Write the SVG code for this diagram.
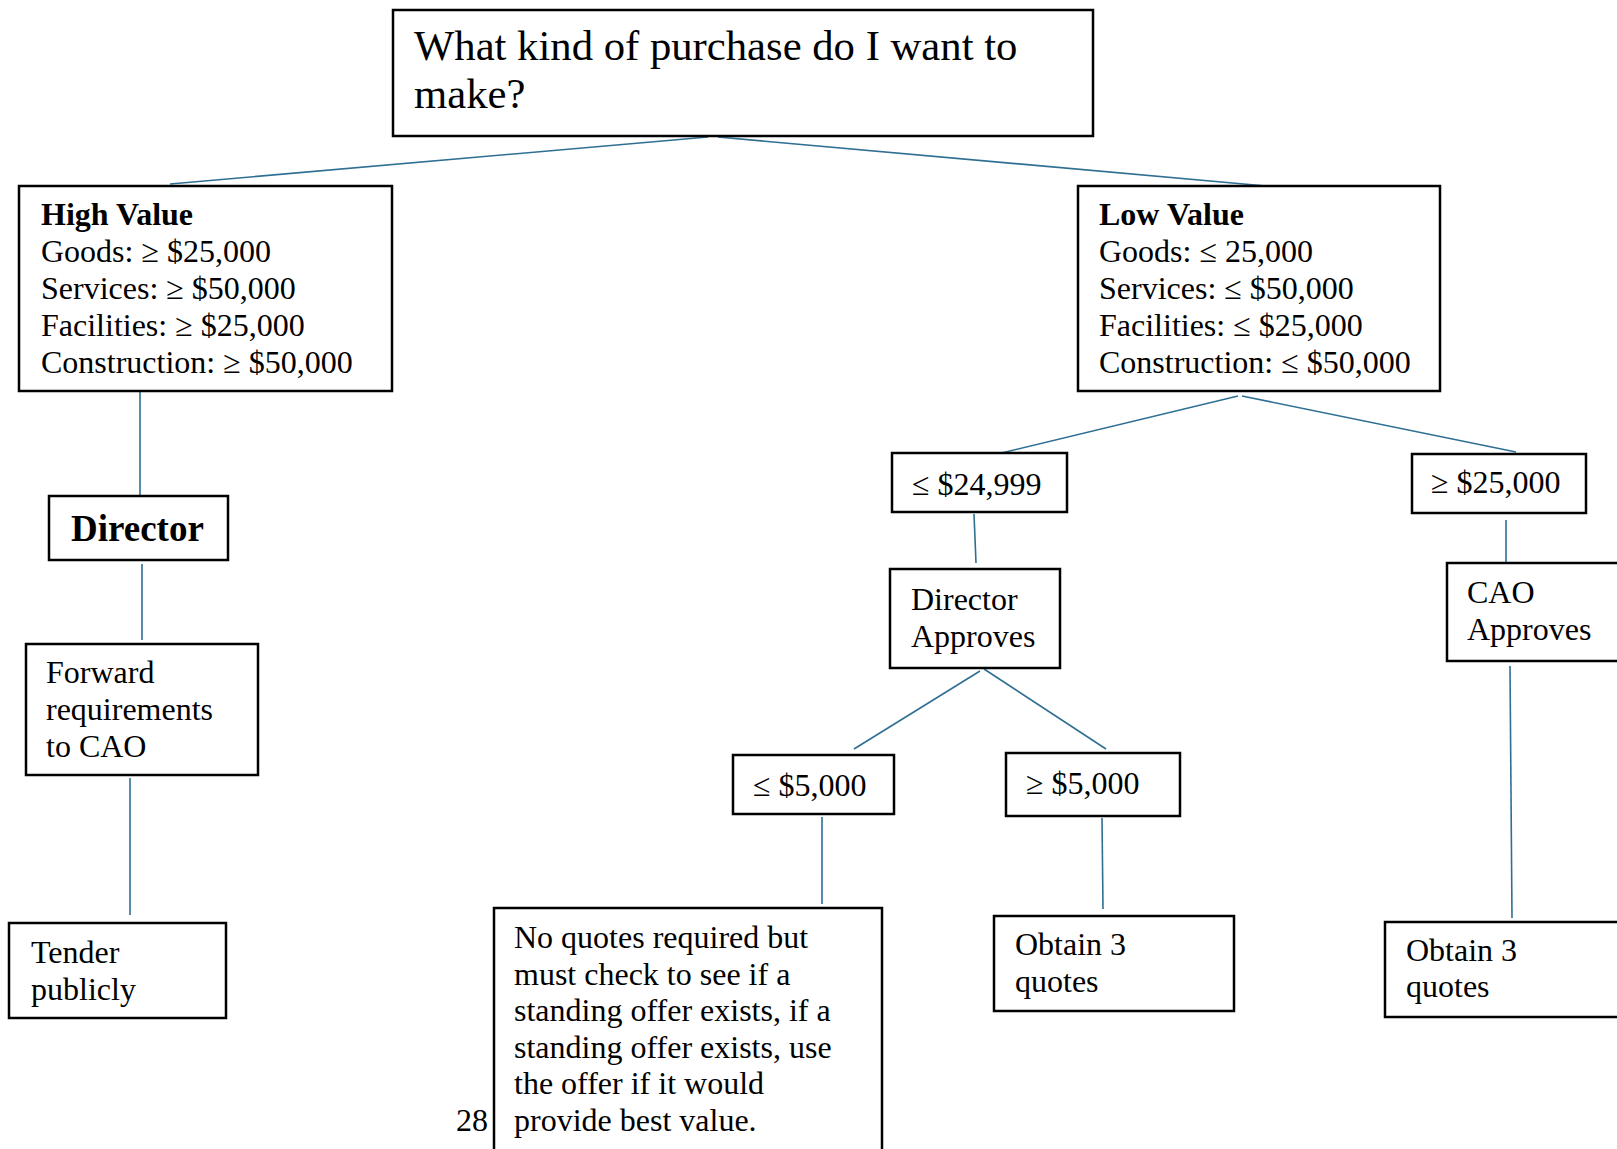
<svg xmlns="http://www.w3.org/2000/svg" width="1617" height="1149" viewBox="0 0 1617 1149">
<style>
  .box { fill: #ffffff; stroke: #000000; stroke-width: 2.5; }
  .t { font-family: "Liberation Serif", "Times New Roman", serif; font-size: 32px; fill: #000000; }
  .title { font-size: 42.7px; }
  .b { font-weight: bold; }
  .big { font-size: 37px; }
  .conn line { stroke: #2F6F93; stroke-width: 1.6; fill: none; }
</style>
<rect x="0" y="0" width="1617" height="1149" fill="#ffffff"/>

<g id="connectors" class="conn">
  <line x1="708" y1="137" x2="170" y2="184"/>
  <line x1="718" y1="137" x2="1266" y2="186"/>
  <line x1="140" y1="392" x2="140" y2="496"/>
  <line x1="142" y1="564" x2="142" y2="640"/>
  <line x1="130" y1="778" x2="130" y2="915"/>
  <line x1="1238" y1="396" x2="993" y2="455"/>
  <line x1="1242" y1="396" x2="1516" y2="452"/>
  <line x1="974" y1="514" x2="976" y2="563"/>
  <line x1="1506" y1="520" x2="1506" y2="564"/>
  <line x1="980" y1="671" x2="854" y2="749"/>
  <line x1="984" y1="669" x2="1106" y2="749"/>
  <line x1="822" y1="817" x2="822" y2="904"/>
  <line x1="1102" y1="818" x2="1103" y2="909"/>
  <line x1="1510" y1="666" x2="1512" y2="918"/>
</g>

<g id="n-question">
  <rect class="box" x="393" y="10" width="700" height="126"/>
  <text class="t title" x="414" y="60">What kind of purchase do I want to</text>
  <text class="t title" x="414" y="108">make?</text>
</g>

<g id="n-high">
  <rect class="box" x="19" y="186" width="373" height="205"/>
  <text class="t b" x="41" y="225">High Value</text>
  <text class="t" x="41" y="262">Goods: ≥ $25,000</text>
  <text class="t" x="41" y="299">Services: ≥ $50,000</text>
  <text class="t" x="41" y="336">Facilities: ≥ $25,000</text>
  <text class="t" x="41" y="373">Construction: ≥ $50,000</text>
</g>

<g id="n-low">
  <rect class="box" x="1078" y="186" width="362" height="205"/>
  <text class="t b" x="1099" y="225">Low Value</text>
  <text class="t" x="1099" y="262">Goods: ≤ 25,000</text>
  <text class="t" x="1099" y="299">Services: ≤ $50,000</text>
  <text class="t" x="1099" y="336">Facilities: ≤ $25,000</text>
  <text class="t" x="1099" y="373">Construction: ≤ $50,000</text>
</g>

<g id="n-director">
  <rect class="box" x="49" y="496" width="179" height="64"/>
  <text class="t b big" x="71" y="541">Director</text>
</g>

<g id="n-forward">
  <rect class="box" x="26" y="644" width="232" height="131"/>
  <text class="t" x="46" y="683">Forward</text>
  <text class="t" x="46" y="720">requirements</text>
  <text class="t" x="46" y="757">to CAO</text>
</g>

<g id="n-tender">
  <rect class="box" x="9" y="923" width="217" height="95"/>
  <text class="t" x="31" y="963">Tender</text>
  <text class="t" x="31" y="1000">publicly</text>
</g>

<g id="n-le24999">
  <rect class="box" x="892" y="453" width="175" height="59"/>
  <text class="t" x="912" y="495">≤ $24,999</text>
</g>

<g id="n-ge25000">
  <rect class="box" x="1412" y="454" width="174" height="59"/>
  <text class="t" x="1431" y="493">≥ $25,000</text>
</g>

<g id="n-director-approves">
  <rect class="box" x="890" y="569" width="170" height="99"/>
  <text class="t" x="911" y="610">Director</text>
  <text class="t" x="911" y="647">Approves</text>
</g>

<g id="n-cao-approves">
  <rect class="box" x="1447" y="563" width="175" height="98"/>
  <text class="t" x="1467" y="603">CAO</text>
  <text class="t" x="1467" y="640">Approves</text>
</g>

<g id="n-le5000">
  <rect class="box" x="733" y="755" width="161" height="59"/>
  <text class="t" x="753" y="796">≤ $5,000</text>
</g>

<g id="n-ge5000">
  <rect class="box" x="1006" y="753" width="174" height="63"/>
  <text class="t" x="1026" y="794">≥ $5,000</text>
</g>

<g id="n-noquotes">
  <rect class="box" x="494" y="908" width="388" height="250"/>
  <text class="t" x="514" y="948">No quotes required but</text>
  <text class="t" x="514" y="984.5">must check to see if a</text>
  <text class="t" x="514" y="1021">standing offer exists, if a</text>
  <text class="t" x="514" y="1057.5">standing offer exists, use</text>
  <text class="t" x="514" y="1094">the offer if it would</text>
  <text class="t" x="514" y="1130.5">provide best value.</text>
</g>

<g id="n-obtain-mid">
  <rect class="box" x="994" y="916" width="240" height="95"/>
  <text class="t" x="1015" y="955">Obtain 3</text>
  <text class="t" x="1015" y="992">quotes</text>
</g>

<g id="n-obtain-right">
  <rect class="box" x="1385" y="922" width="240" height="95"/>
  <text class="t" x="1406" y="961">Obtain 3</text>
  <text class="t" x="1406" y="997">quotes</text>
</g>

<text id="page-number" class="t" x="456" y="1130.5">28</text>
</svg>
